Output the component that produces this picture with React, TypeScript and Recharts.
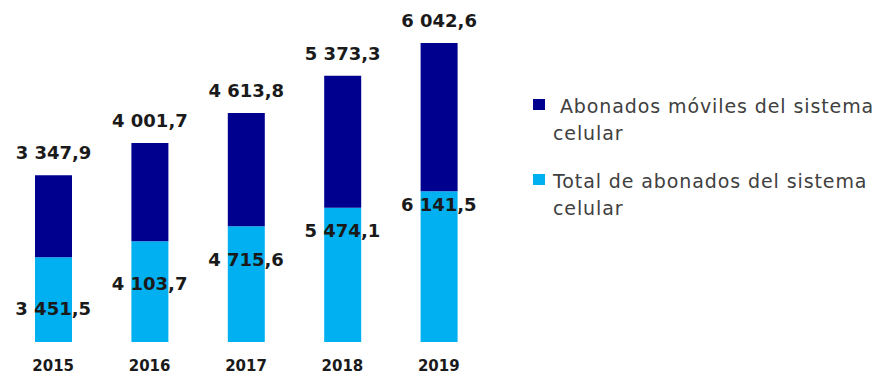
import {
  Bar,
  ComposedChart,
  LabelList,
  Legend,
  Line,
  XAxis,
  YAxis,
} from "recharts";

const years = ["2015", "2016", "2017", "2018", "2019"];
const totalAbonados = [3451.5, 4103.7, 4715.6, 5474.1, 6141.5];
const abonadosMoviles = [3347.9, 4001.7, 4613.8, 5373.3, 6042.6];

const seriesNames = {
  moviles: "\u00a0Abonados móviles del sistema celular",
  total: "Total de abonados del sistema celular",
};

const DARK = "#00008f";
const LIGHT = "#00b0f0";
const FONT = "'DejaVu Sans', Verdana, sans-serif";

const data = years.map((year, i) => ({
  year,
  total: totalAbonados[i],
  moviles: abonadosMoviles[i],
}));

const fmt = (v: number) => {
  const [int, dec] = v.toFixed(1).split(".");
  return int.replace(/\B(?=(\d{3})+(?!\d))/g, " ") + "," + dec;
};

function LegendBox() {
  const items = [
    { name: seriesNames.moviles, color: DARK },
    { name: seriesNames.total, color: LIGHT },
  ];
  return (
    <div
      style={{
        width: 349,
        fontFamily: FONT,
        fontSize: 19,
        letterSpacing: "0.9px",
        lineHeight: "27px",
        color: "#404040",
      }}
    >
      {items.map((item) => (
        <div key={item.name} style={{ position: "relative", paddingLeft: 20, marginBottom: 21 }}>
          <span
            style={{
              position: "absolute",
              left: 0,
              top: 6,
              width: 12,
              height: 11,
              background: item.color,
            }}
          />
          {item.name}
        </div>
      ))}
    </div>
  );
}

const labelText = {
  fontFamily: FONT,
  fontWeight: "bold" as const,
  fontSize: 18,
  fill: "#1a1a1a",
};

// value on the total series, sitting in the light part of each bar
function InnerLabel(props: any) {
  const { x, y, value } = props;
  if (x == null || y == null) return null;
  return (
    <text x={x} y={y} textAnchor="middle" dominantBaseline="central" {...labelText}>
      {fmt(value)}
    </text>
  );
}

// value above the top of each stacked bar
function TopLabel(props: any) {
  const { x, y, width, value } = props;
  if (x == null || y == null) return null;
  return (
    <text x={x + width / 2} y={y - 16} textAnchor="middle" {...labelText}>
      {fmt(value)}
    </text>
  );
}

export default function App() {
  return (
    <div style={{ position: "absolute", left: 0, top: 0, background: "#fff" }}>
      <ComposedChart
        width={882}
        height={378}
        data={data}
        margin={{ top: 23, right: 46, left: 5, bottom: 6 }}
      >
        <XAxis
          dataKey="year"
          axisLine={false}
          tickLine={false}
          tickSize={0}
          tickMargin={18}
          height={30}
          tick={{ fontFamily: FONT, fontWeight: "bold", fontSize: 15, fill: "#1a1a1a" }}
        />
        <YAxis yAxisId="left" hide domain={[0, 13000]} />
        <YAxis yAxisId="labels" hide orientation="right" domain={[2600, 10800]} />
        <Legend
          layout="vertical"
          align="right"
          verticalAlign="middle"
          width={349}
          wrapperStyle={{ left: 533, top: 93 }}
          content={() => <LegendBox />}
        />
        <Bar yAxisId="left" dataKey="total" stackId="a" fill={LIGHT} barSize={37} isAnimationActive={false} />
        <Bar yAxisId="left" dataKey="moviles" stackId="a" fill={DARK} barSize={37} isAnimationActive={false}>
          <LabelList dataKey="moviles" content={<TopLabel />} />
        </Bar>
        <Line
          yAxisId="labels"
          dataKey="total"
          stroke="none"
          dot={false}
          activeDot={false}
          legendType="none"
          isAnimationActive={false}
        >
          <LabelList dataKey="total" content={<InnerLabel />} />
        </Line>
      </ComposedChart>
    </div>
  );
}
